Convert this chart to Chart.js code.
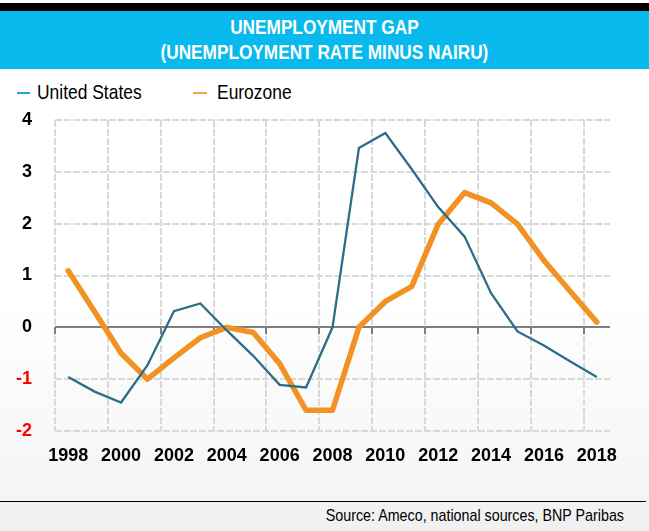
<!DOCTYPE html>
<html>
<head>
<meta charset="utf-8">
<script src="https://cdn.jsdelivr.net/npm/chart.js@4.4.1/dist/chart.umd.min.js"></script>
<style>
html,body{margin:0;padding:0;}
body{width:649px;height:531px;position:relative;overflow:hidden;
  background:linear-gradient(180deg,#ffffff 0%,#ffffff 55%,#f3f3f3 100%);
  font-family:'Liberation Sans',Arial,sans-serif;}
#blackbar{position:absolute;left:0;top:3px;width:649px;height:8px;background:#000;}
#titlebar{position:absolute;left:0;top:11px;width:649px;height:58px;background:#08b9ee;color:#fff;
  text-align:center;font-weight:bold;font-size:21px;}
#titlebar div{position:absolute;left:0;right:0;height:24px;line-height:24px;white-space:nowrap;transform:scaleX(0.82);transform-origin:324px 50%;}
#t1{top:4px;} #t2{top:29px;}
#legend{position:absolute;left:0;top:80px;height:24px;width:649px;font-size:21px;line-height:24px;color:#000;}
.lg{position:absolute;top:0;white-space:nowrap;transform:scaleX(0.83);transform-origin:0 50%;}
.mk{position:absolute;top:12px;height:2px;}
#foot{position:absolute;left:0;top:502px;width:649px;height:29px;background:#f1f1f1;}
#sep{position:absolute;left:0;top:501px;width:646px;height:1px;background:#000;}
#src{position:absolute;right:25px;top:504px;font-size:17px;line-height:24px;color:#000;white-space:nowrap;transform:scaleX(0.84);transform-origin:100% 50%;}
canvas{position:absolute;left:0;top:0;}
</style>
</head>
<body>
<div id="blackbar"></div>
<div id="titlebar"><div id="t1">UNEMPLOYMENT GAP</div><div id="t2">(UNEMPLOYMENT RATE MINUS NAIRU)</div></div>
<div id="legend">
  <div class="mk" style="left:17px;width:13px;background:#2a9fd8;"></div>
  <div class="lg" style="left:37px;">United States</div>
  <div class="mk" style="left:193px;width:14px;background:#f5a04a;"></div>
  <div class="lg" style="left:217px;">Eurozone</div>
</div>
<div id="foot"></div>
<div id="sep"></div>
<div id="src">Source: Ameco, national sources, BNP Paribas</div>
<canvas id="c" width="649" height="531"></canvas>
<script>
const years = [1998,1999,2000,2001,2002,2003,2004,2005,2006,2007,2008,2009,2010,2011,2012,2013,2014,2015,2016,2017,2018];
const usGap = [-0.96,-1.24,-1.45,-0.73,0.31,0.46,-0.06,-0.55,-1.11,-1.16,0.00,3.46,3.75,3.05,2.32,1.75,0.66,-0.08,-0.35,-0.66,-0.96];
const ezGap = [1.09,0.30,-0.50,-1.00,-0.59,-0.20,0.00,-0.10,-0.70,-1.60,-1.60,0.00,0.50,0.79,1.99,2.60,2.40,1.99,1.29,0.69,0.10];
const yTickValues = [-2,-1,0,1,2,3,4];
const xLabelYears = [1998,2000,2002,2004,2006,2008,2010,2012,2014,2016,2018];
const seriesNames = ['United States','Eurozone'];

const xMin = years[0] - 0.5, xMax = years[years.length-1] + 0.5;
const toPts = arr => years.map((y,i) => ({x:y, y:arr[i]}));

const zeroTicks = {
  id:'zeroTicks',
  beforeDatasetsDraw(chart){
    const ctx = chart.ctx, xs = chart.scales.x, ys = chart.scales.y;
    const y0 = ys.getPixelForValue(0);
    ctx.save();
    ctx.strokeStyle = '#7f7f7f'; ctx.lineWidth = 2;
    xs.ticks.forEach(t => {
      const px = Math.round(xs.getPixelForValue(t.value));
      ctx.beginPath(); ctx.moveTo(px, y0); ctx.lineTo(px, y0 + 7); ctx.stroke();
    });
    ctx.restore();
  }
};

new Chart(document.getElementById('c'), {
  type:'line',
  data:{
    datasets:[
      {label:seriesNames[0], data:toPts(usGap), borderColor:'#2b6e88', borderWidth:2.3, pointRadius:0, tension:0, xAxisID:'x', yAxisID:'y', borderJoinStyle:'miter'},
      {label:seriesNames[1], data:toPts(ezGap), borderColor:'#f39224', borderWidth:5.5, pointRadius:0, tension:0, xAxisID:'x', yAxisID:'y', borderJoinStyle:'round', borderCapStyle:'round'}
    ]
  },
  options:{
    responsive:false, animation:false, devicePixelRatio:1,
    layout:{padding:{left:0, right:39, top:120, bottom:60}},
    plugins:{legend:{display:false}, title:{display:false}, tooltip:{enabled:false}},
    scales:{
      x:{type:'linear', position:'bottom', min:xMin, max:xMax,
        afterBuildTicks: ax => { ax.ticks = xLabelYears.map(v => ({value: v - 0.5})); },
        ticks:{display:false},
        grid:{color:'#d9d9d9', lineWidth:2, drawTicks:false, z:-1},
        border:{display:false, dash:[7,2]},
        afterFit: s => { s.height = 0; }
      },
      xl:{type:'linear', position:'bottom', min:xMin, max:xMax,
        afterBuildTicks: ax => { ax.ticks = xLabelYears.map(v => ({value: v})); },
        ticks:{font:{family:"'Liberation Sans',Arial,sans-serif", size:18, weight:'bold'},
          color:'#000', padding:14, maxRotation:0, autoSkip:false, callback: v => String(v)},
        grid:{display:false, drawTicks:false},
        border:{display:false},
        afterFit: s => { s.height = 40; }
      },
      y:{min:-2, max:4,
        afterBuildTicks: ax => { ax.ticks = yTickValues.map(v => ({value: v})); },
        ticks:{font:{family:"'Liberation Sans',Arial,sans-serif", size:18, weight:'bold'},
          color: c => (c.tick && c.tick.value < 0) ? '#ff0000' : '#000000', padding:23, callback: v => String(v)},
        grid:{color: c => (c.tick && c.tick.value === 0) ? '#7f7f7f' : '#d9d9d9', lineWidth:2, drawTicks:false},
        border:{display:false, dash: c => (c.tick && c.tick.value === 0) ? [] : [7,2]},
        afterFit: s => { s.width = 55; }
      }
    }
  },
  plugins:[zeroTicks]
});
</script>
</body>
</html>
